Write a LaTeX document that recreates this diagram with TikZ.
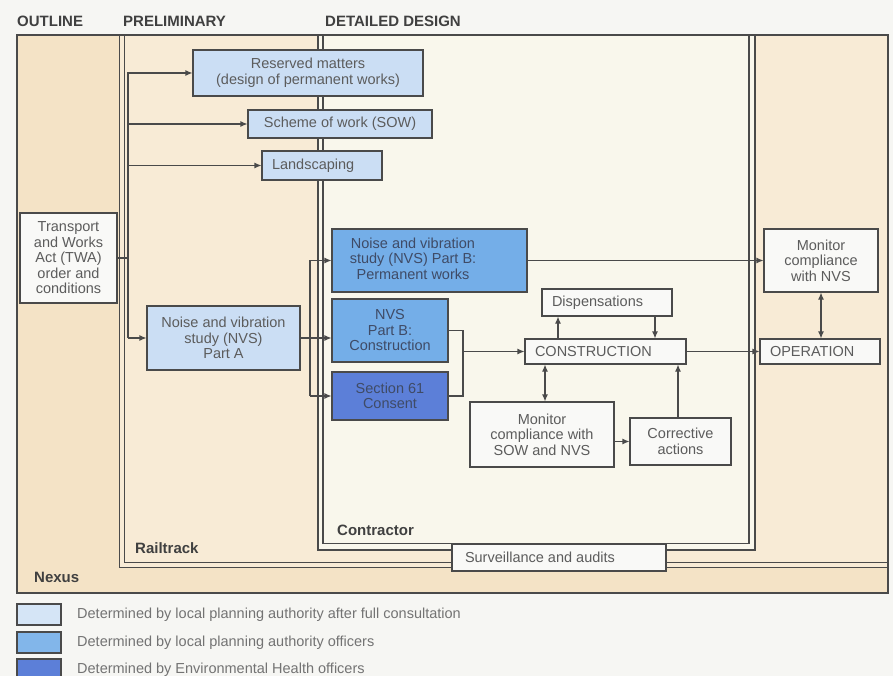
\documentclass[tikz,border=0pt]{standalone}
\usepackage{fontspec}
\setmainfont{Liberation Sans}
\usetikzlibrary{arrows.meta}
\definecolor{bg}{HTML}{F6F6F3}
\definecolor{nexus}{HTML}{F4E3C6}
\definecolor{rail}{HTML}{F8EBD6}
\definecolor{contr}{HTML}{F9F7EC}
\definecolor{lblue}{HTML}{CBDEF4}
\definecolor{mblue}{HTML}{74AEE8}
\definecolor{dblue}{HTML}{5C7FD8}
\definecolor{wbox}{HTML}{F9F9F7}
\definecolor{linec}{HTML}{4A4A4A}
\definecolor{txt}{HTML}{5C5C5C}
\definecolor{btxt}{HTML}{3F4B66}
\begin{document}
\begin{tikzpicture}[x=1pt,y=-1pt,
  box/.style={draw=linec,line width=1.1pt,inner sep=0pt,align=center,text=txt,font=\fontsize{14.5}{15.5}\selectfont},
  wb/.style={box,fill=wbox},
  lb/.style={box,fill=lblue},
  mb/.style={box,fill=mblue,text=btxt},
  db/.style={box,fill=dblue,text=btxt},
  grp/.style={draw=linec,line width=1.1pt},
  ln/.style={draw=linec,line width=1.1pt},
  arr/.style={ln,-{Latex[length=7pt,width=6pt]}},
  darr/.style={ln,{Latex[length=7pt,width=6pt]}-{Latex[length=7pt,width=6pt]}},
  hdr/.style={font=\fontsize{15}{17}\selectfont\bfseries,text=black!75,anchor=base west,inner sep=0pt},
  leg/.style={font=\fontsize{14.5}{16}\selectfont,text=black!55,anchor=west,inner sep=0pt},
]
\fill[bg] (0,0) rectangle (893,676);
\useasboundingbox (0,0) rectangle (893,676);

% groups
\path[grp,fill=nexus] (17,35) rectangle (888,593);
\path[grp,fill=rail] (119.5,35) rectangle (888,567.5);
\draw[grp] (124.5,35) -- (124.5,562.5) -- (888,562.5);
\path[grp,fill=contr] (318,35) rectangle (755,550);
\draw[grp] (323,35) -- (323,543.5) -- (749,543.5) -- (749,35);

% headers and group labels
\node[hdr] (h1) at (17,27) {OUTLINE};
\node[hdr] (h2) at (123,27) {PRELIMINARY};
\node[hdr] (h3) at (325,27) {DETAILED DESIGN};
\node[hdr] (gc) at (337,535.5) {Contractor};
\node[hdr] (gr) at (135,553.5) {Railtrack};
\node[hdr] (gn) at (34,582.5) {Nexus};

% boxes
\node[lb,minimum width=230pt,minimum height=46pt] (rm) at (308,73) {Reserved matters\\(design of permanent works)};
\node[lb,minimum width=184pt,minimum height=28pt] (sow) at (340,124) {Scheme of work (SOW)};
\node[lb,minimum width=120pt,minimum height=29pt] (ls) at (322,165.5) {\makebox[100pt][l]{Landscaping}};
\node[wb,minimum width=97pt,minimum height=90pt] (tw) at (68.5,258) {Transport\\and Works\\Act (TWA)\\order and\\conditions};
\node[lb,minimum width=153pt,minimum height=64pt] (nvsa) at (223.5,338) {Noise and vibration\\study (NVS)\\Part A};
\node[mb,minimum width=195pt,minimum height=63pt] (pbp) at (429.5,260.5) {\begin{tabular}{@{}c@{}}Noise and vibration\\study (NVS) Part B:\\Permanent works\end{tabular}\hspace*{33pt}};
\node[mb,minimum width=116pt,minimum height=63pt] (pbc) at (390,330.5) {NVS\\Part B:\\Construction};
\node[db,minimum width=116pt,minimum height=48pt] (s61) at (390,396) {Section 61\\Consent};
\node[wb,minimum width=130pt,minimum height=27pt] (disp) at (607,302.5) {\makebox[110pt][l]{Dispensations}};
\node[wb,minimum width=161pt,minimum height=25pt] (cons) at (605.5,351.5) {\makebox[141pt][l]{CONSTRUCTION}};
\node[wb,minimum width=120pt,minimum height=25pt] (op) at (820,351.5) {\makebox[100pt][l]{OPERATION}};
\node[wb,minimum width=114pt,minimum height=63pt] (mnvs) at (821,260.5) {Monitor\\compliance\\with NVS};
\node[wb,minimum width=144pt,minimum height=65pt] (msow) at (542,434.5) {Monitor\\compliance with\\SOW and NVS};
\node[wb,minimum width=101pt,minimum height=47pt] (corr) at (680.5,441.5) {Corrective\\actions};
\node[wb,minimum width=214pt,minimum height=27pt] (surv) at (559,557.5) {\makebox[188pt][l]{Surveillance and audits}};

% connectors
\coordinate (tx) at (128,0);
\draw[ln] (tw.east) -- (tx |- tw.east);
\draw[arr] (tx |- nvsa.west) |- (rm.west);
\draw[arr] (tx |- nvsa.west) -- (nvsa.west);
\draw[arr] (tx |- sow.west) -- (sow.west);
\draw[arr] (tx |- ls.west) -- (ls.west);

\coordinate (kx) at (310,0);
\draw[ln] (nvsa.east) -- (kx |- nvsa.east);
\draw[arr] (kx |- s61.west) |- (pbp.west);
\draw[arr] (kx |- s61.west) -- (s61.west);
\draw[arr] (kx |- nvsa.east) -- (pbc.west |- nvsa.east);

\coordinate (bx) at (463,0);
\draw[ln] (pbc.east) -| (bx |- s61.east) -- (s61.east);
\draw[arr] (bx |- cons.west) -- (cons.west);

\draw[arr] (pbp.east) -- (mnvs.west);
\draw[arr] (cons.east) -- (op.west);
\draw[darr] (mnvs.south) -- (mnvs.south |- op.north);

\coordinate (d1) at (558,0);
\coordinate (d2) at (655,0);
\coordinate (m1) at (545,0);
\coordinate (c1) at (678,0);
\draw[arr] (d1 |- cons.north) -- (d1 |- disp.south);
\draw[arr] (d2 |- disp.south) -- (d2 |- cons.north);
\draw[darr] (m1 |- cons.south) -- (m1 |- msow.north);
\draw[arr] (msow.east |- corr.west) -- (corr.west);
\draw[arr] (c1 |- corr.north) -- (c1 |- cons.south);

% legend
\node[box,fill=lblue!80!white,minimum width=44pt,minimum height=21pt] (s1) at (39,614.5) {};
\node[box,fill=mblue!90!white,minimum width=44pt,minimum height=21pt] (s2) at (39,642.5) {};
\node[box,fill=dblue,minimum width=44pt,minimum height=21pt] (s3) at (39,669.5) {};
\node[leg] (l1) at (77,614.5) {Determined by local planning authority after full consultation};
\node[leg] (l2) at (77,642.5) {Determined by local planning authority officers};
\node[leg] (l3) at (77,669.5) {Determined by Environmental Health officers};
\end{tikzpicture}
\end{document}
